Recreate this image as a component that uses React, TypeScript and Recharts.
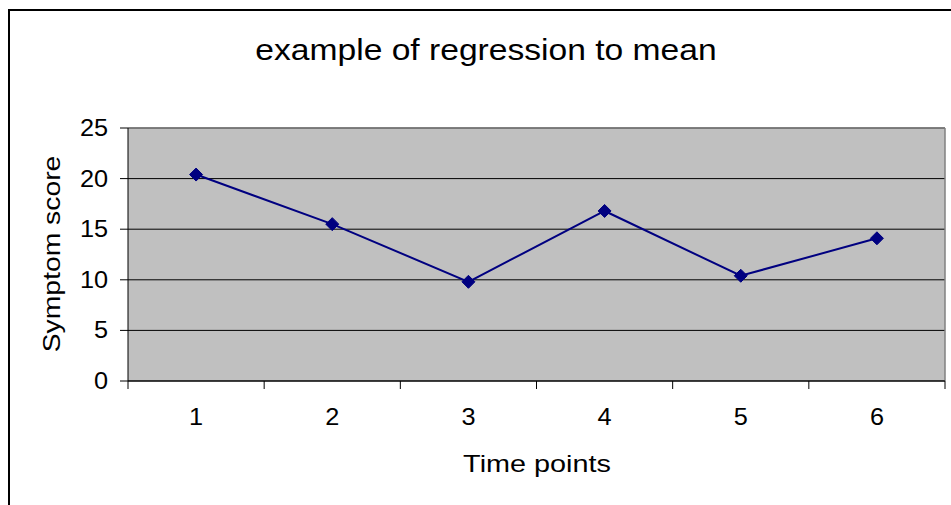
import React from "react";
import { LineChart, Line, XAxis, YAxis, CartesianGrid, ReferenceLine } from "recharts";

const categories = [1, 2, 3, 4, 5, 6];
const scores = [20.4, 15.5, 9.8, 16.8, 10.4, 14.1];
const yTicks = [0, 5, 10, 15, 20, 25];
const titleText = "example of regression to mean";
const xTitle = "Time points";
const yTitle = "Symptom score";

const data = categories.map((c, i) => ({ time: c, score: scores[i] }));
const xTicks: number[] = [];
categories.forEach((c) => {
  xTicks.push(c - 0.5);
  xTicks.push(c);
});
xTicks.push(categories[categories.length - 1] + 0.5);

const FONT = "'Liberation Sans', Arial, sans-serif";
const STRETCH = 1.1;
const TICK_FS = 23;

const XTick = (props: any) => {
  const { x, y, payload } = props;
  const v = payload.value;
  if (Number.isInteger(v)) {
    return (
      <g transform={`translate(${x},${y + 36}) scale(${STRETCH},1)`}>
        <text x={0} y={0} textAnchor="middle" dominantBaseline="central" fontSize={TICK_FS} fontFamily={FONT} fill="#000">
          {v}
        </text>
      </g>
    );
  }
  return <line x1={x} x2={x} y1={y} y2={y + 8} stroke="#000" strokeWidth={1} />;
};

const YTick = (props: any) => {
  const { x, y, payload } = props;
  return (
    <g transform={`translate(${x},${y}) scale(${STRETCH},1)`}>
      <text x={0} y={0} textAnchor="end" dominantBaseline="central" fontSize={TICK_FS} fontFamily={FONT} fill="#000">
        {payload.value}
      </text>
    </g>
  );
};

const Diamond = (props: any) => {
  const { cx, cy } = props;
  if (cx == null || cy == null) return null;
  const r = 6.5;
  return (
    <polygon
      points={`${cx},${cy - r} ${cx + r},${cy} ${cx},${cy + r} ${cx - r},${cy}`}
      fill="#000080"
      stroke="#000080"
    />
  );
};

export default function App() {
  return (
    <div style={{ position: "fixed", left: 0, top: 0, width: 951, height: 505, overflow: "hidden", background: "#fff" }}>
      <div
        style={{
          position: "absolute",
          left: 8,
          top: 9,
          width: 1000,
          height: 600,
          borderTop: "2px solid #000",
          borderLeft: "2px solid #000",
        }}
      />
      <div
        style={{
          position: "absolute",
          left: 486,
          top: 50,
          transform: "translate(-50%, -50%) scale(1.12, 1)",
          fontFamily: FONT,
          fontSize: 30,
          whiteSpace: "nowrap",
          color: "#000",
        }}
      >
        {titleText}
      </div>
      <div
        style={{
          position: "absolute",
          left: 537,
          top: 464,
          transform: "translate(-50%, -50%) scale(1.2, 1)",
          fontFamily: FONT,
          fontSize: 24,
          whiteSpace: "nowrap",
          color: "#000",
        }}
      >
        {xTitle}
      </div>
      <div
        style={{
          position: "absolute",
          left: 52,
          top: 254,
          transform: "translate(-50%, -50%) rotate(-90deg) scale(1.18, 1)",
          fontFamily: FONT,
          fontSize: 24,
          whiteSpace: "nowrap",
          color: "#000",
        }}
      >
        {yTitle}
      </div>
      <div style={{ position: "absolute", left: 0, top: 0 }}>
        <LineChart width={951} height={505} data={data} margin={{ top: 128, right: 6, left: 0, bottom: 64 }}>
          <CartesianGrid vertical={false} fill="#C0C0C0" fillOpacity={1} stroke="#000" strokeWidth={1} />
          <XAxis
            dataKey="time"
            type="number"
            domain={[0.5, 6.5]}
            ticks={xTicks}
            interval={0}
            tickLine={false}
            tickSize={0}
            tickMargin={0}
            tick={<XTick />}
            axisLine={{ stroke: "#000", strokeWidth: 1 }}
            height={60}
          />
          <YAxis
            type="number"
            domain={[0, 25]}
            ticks={yTicks}
            interval={0}
            width={128}
            tickSize={8}
            tickMargin={12}
            tickLine={{ stroke: "#000" }}
            axisLine={{ stroke: "#000", strokeWidth: 1 }}
            tick={<YTick />}
          />
          <ReferenceLine y={25} stroke="#808080" strokeWidth={1.5} />
          <ReferenceLine x={6.5} stroke="#808080" strokeWidth={1.5} />
          <Line
            type="linear"
            dataKey="score"
            stroke="#000080"
            strokeWidth={2}
            dot={<Diamond />}
            activeDot={false}
            isAnimationActive={false}
          />
        </LineChart>
      </div>
    </div>
  );
}
